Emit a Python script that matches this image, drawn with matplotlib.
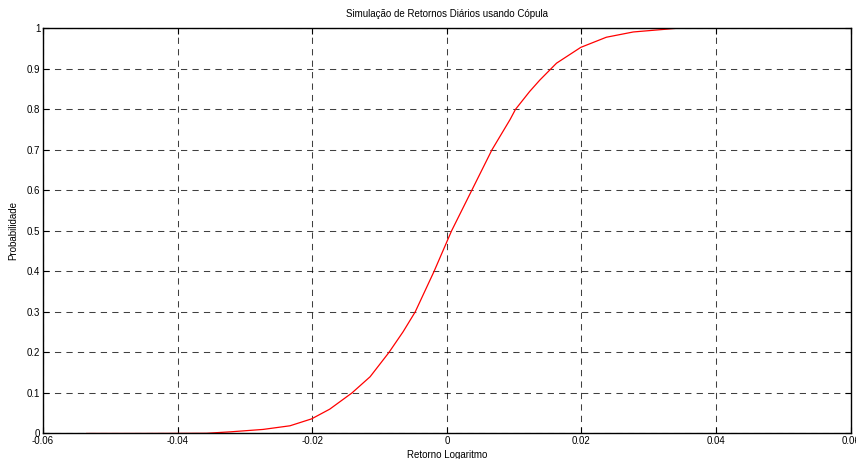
import matplotlib.pyplot as plt
import numpy as np

plt.rcParams['font.family'] = ['Liberation Sans', 'DejaVu Sans']

# curva (retorno x probabilidade acumulada)
retorno = [-0.0535, -0.045, -0.0357, -0.0322, -0.0273, -0.0233, -0.0201, -0.0174,
           -0.0141, -0.0114, -0.0086, -0.0065, -0.0047, -0.0019, 0.0007, 0.0037,
           0.0067, 0.0094, 0.0102, 0.0123, 0.0138, 0.0163, 0.0199, 0.0237, 0.0277,
           0.0327, 0.0341, 0.0505]
probabilidade = [0.0, 0.0, 0.0005, 0.004, 0.010, 0.019, 0.036, 0.06,
                 0.1, 0.14, 0.2, 0.251, 0.3, 0.4, 0.5, 0.6,
                 0.7, 0.775, 0.8, 0.844, 0.872, 0.914, 0.953, 0.978, 0.991,
                 0.998, 1.0, 1.0]

xticks = [-0.06, -0.04, -0.02, 0, 0.02, 0.04, 0.06]
xticklabels = ['-0.06', '-0.04', '-0.02', '0', '0.02', '0.04', '0.06']
yticks = [0, 0.1, 0.2, 0.3, 0.4, 0.5, 0.6, 0.7, 0.8, 0.9, 1]
yticklabels = ['0', '0.1', '0.2', '0.3', '0.4', '0.5', '0.6', '0.7', '0.8', '0.9', '1']

fig = plt.figure(figsize=(8.56, 4.59), dpi=100)
ax = fig.add_axes([0.0502, 0.0556, 0.9436, 0.8827])

ax.plot(retorno, probabilidade, color='red', linewidth=0.9)

ax.set_xlim(-0.06, 0.06)
ax.set_ylim(0, 1)
ax.set_xticks(xticks)
ax.set_xticklabels(xticklabels)
ax.set_yticks(yticks)
ax.set_yticklabels(yticklabels)

ax.grid(True, color='black', linestyle=(0, (6, 5)), linewidth=0.75, alpha=0.75)
ax.tick_params(direction='in', length=4, width=0.8, labelsize=7,
               top=True, right=True, pad=2)
for s in ax.spines.values():
    s.set_linewidth(1.0)

ax.set_title('Simulação de Retornos Diários usando Cópula', fontsize=7, pad=8)
ax.set_xlabel('Retorno Logaritmo', fontsize=7, labelpad=3)
ax.set_ylabel('Probabilidade', fontsize=7, labelpad=6)

fig.savefig('out.png', dpi=100, facecolor='white')
